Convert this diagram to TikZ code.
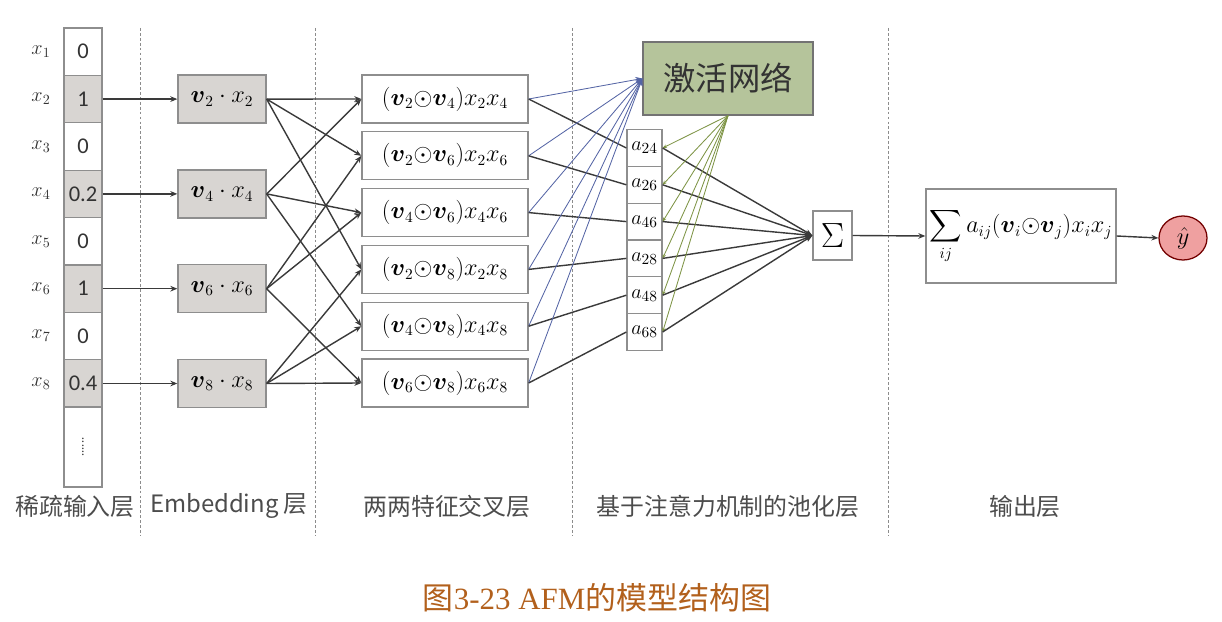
\documentclass[tikz,border=0pt]{standalone}
\usepackage{amsmath, amssymb}
\usepackage{fontspec}
\usepackage{tikz}
\usetikzlibrary{arrows.meta, shapes.geometric}
\newfontfamily\cjk{Noto Sans CJK SC}
\newfontfamily\cali{Carlito}
\newfontfamily\capfont{Liberation Serif}
\definecolor{boxgray}{HTML}{8E8E8E}
\definecolor{cellgray}{HTML}{D8D5D2}
\definecolor{linegray}{HTML}{3A3A3A}
\definecolor{actgreen}{HTML}{B5C49B}
\definecolor{lineblue}{HTML}{5565A5}
\definecolor{linegreen}{HTML}{7E9445}
\definecolor{hatred}{HTML}{EFA0A0}
\definecolor{capbrown}{HTML}{B2601C}
\tikzset{
  every node/.append style={inner sep=0pt},
  cell/.style={draw=boxgray, line width=0.9pt, minimum width=0.95cm, minimum height=1.185cm, font=\cali\fontsize{16}{18}\selectfont, text=black!80},
  xlab/.style={font=\fontsize{14}{16}\selectfont, text=black!80},
  emb/.style={draw=boxgray, line width=0.9pt, fill=cellgray, minimum width=2.2cm, minimum height=1.2cm, font=\fontsize{16}{18}\selectfont},
  cross/.style={draw=boxgray, line width=0.9pt, fill=white, minimum width=4.15cm, minimum height=1.2cm, font=\fontsize{16}{18}\selectfont},
  att/.style={draw=boxgray, line width=0.9pt, fill=white, minimum width=0.875cm, minimum height=0.92cm, font=\fontsize{15}{16}\selectfont},
  layer/.style={font=\cjk\fontsize{17}{20}\selectfont, text=black!70},
  divider/.style={draw=black!45, line width=0.6pt, dash pattern=on 2pt off 1.5pt},
  darkline/.style={draw=linegray, line width=1pt},
  arr/.style={-{Stealth[length=5pt,width=4pt]}},
}
\begin{document}
\begin{tikzpicture}[x=0.025cm, y=-0.025cm]
    \useasboundingbox (0,0) rectangle (1222,622);
    % layer dividers
    \foreach \x in {140,315,572,888}
        \draw[divider] (\x,28) -- (\x,535);
    % sparse input
    \foreach \v/\f [count=\i] in {0/white,1/cellgray,0/white,0.2/cellgray,0/white,1/cellgray,0/white,0.4/cellgray} {
        \node[cell, fill=\f] (in\i) at (83,{28+47.4*(\i-0.5)}) {\v};
        \node[xlab] (xl\i) at (41,{28+47.4*(\i-0.5)}) {$x_{\i}$};
    }
    \node[cell, minimum height=2cm] (in9) at (83,447) {\rotatebox{90}{\fontsize{9}{9}\selectfont......}};
    % embedding
    \foreach \k in {2,4,6,8} {
        \node[emb] (e\k) at (222,{28+47.4*(\k-0.5)}) {$\boldsymbol{v}_{\k}\cdot x_{\k}$};
        \draw[darkline, arr] (in\k.east) -- (e\k.west);
    }
    % pooling heads
    \node[draw=black!55, line width=0.9pt, fill=actgreen, minimum width=4.25cm, minimum height=1.825cm,
          font=\cjk\fontsize{23}{26}\selectfont, text=black!80] (act) at (728,78.5) {激活网络};
    \node[draw=boxgray, line width=0.9pt, minimum width=0.975cm, minimum height=1.225cm,
          font=\fontsize{23}{24}\selectfont] (sig) at (832.5,235.5) {$\Sigma$};
    % pairwise interactions
    \foreach \i/\j [count=\n] in {2/4,2/6,4/6,2/8,4/8,6/8} {
        \node[cross] (c\i\j) at (445,{99+56.8*(\n-1)}) {$(\boldsymbol{v}_{\i}{\odot}\boldsymbol{v}_{\j})x_{\i}x_{\j}$};
        \node[att] (a\i\j) at (644.5,{148+36.8*(\n-1)}) {$a_{\i\j}$};
        \draw[darkline, arr] (e\i.east) -- (c\i\j.west);
        \draw[darkline, arr] (e\j.east) -- (c\i\j.west);
        \draw[lineblue, line width=0.6pt, arr] (c\i\j.east) -- (act.west);
        \draw[darkline] (c\i\j.east) -- (a\i\j.west);
        \draw[linegreen, line width=0.6pt, -{Stealth[length=3pt,width=2.5pt]}] (act.south) -- (a\i\j.east);
        \draw[darkline, arr] (a\i\j.east) -- (sig.west);
    }
    % output
    \node[draw=boxgray, line width=0.9pt, minimum width=4.75cm, minimum height=2.35cm,
          font=\fontsize{16}{18}\selectfont] (sum) at (1021,236)
          {$\displaystyle\sum_{ij} a_{ij}(\boldsymbol{v}_i{\odot}\boldsymbol{v}_j)x_ix_j$};
    \node[draw=red!45!black, line width=0.9pt, fill=hatred, ellipse, minimum width=1.2cm, minimum height=1.1cm,
          font=\fontsize{18}{20}\selectfont] (yhat) at (1183,238) {$\hat{y}$};
    \draw[darkline, arr] (sig.east) -- (sum.west);
    \draw[darkline, arr] (sum.east) -- (yhat.west);
    % layer names
    \node[layer] (l1) at (75,506) {稀疏输入层};
    \node[layer] (l2) at (229,506) {Embedding 层};
    \node[layer] (l3) at (447,506) {两两特征交叉层};
    \node[layer] (l4) at (728,506) {基于注意力机制的池化层};
    \node[layer] (l5) at (1025,506) {输出层};
    \node[font=\capfont\fontsize{22}{26}\selectfont, text=capbrown] (cap) at (597,598) {{\cjk 图}3-23 AFM{\cjk 的模型结构图}};
\end{tikzpicture}
\end{document}
